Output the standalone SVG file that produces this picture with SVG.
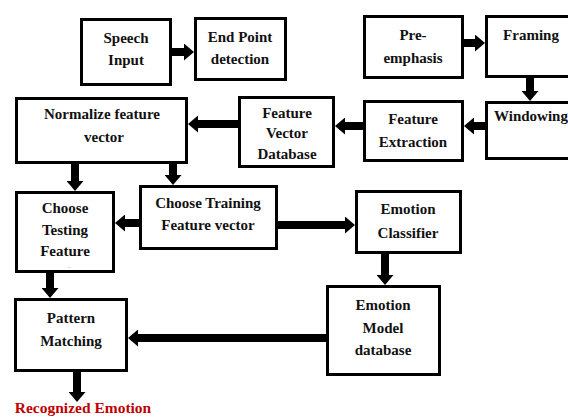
<svg xmlns="http://www.w3.org/2000/svg" width="568" height="417" viewBox="0 0 568 417">
<style>
.box{fill:#fff;stroke:#000;stroke-width:3}
.t{font-family:"Liberation Serif","Times New Roman",serif;font-weight:bold;font-size:15px;fill:#111;text-anchor:middle}
.red{fill:#c00000;font-size:15.5px}
.c{stroke:#000;stroke-width:8;fill:none;marker-end:url(#ah)}
</style>
<defs>
<marker id="ah" markerUnits="userSpaceOnUse" markerWidth="10" markerHeight="17" viewBox="0 0 10 17" refX="0" refY="8.5" orient="auto">
<path d="M0,0 L10,8.5 L0,17 Z" fill="#000"/>
</marker>
</defs>
<rect width="568" height="417" fill="#fff"/>
<g id="connectors">
<path class="c" d="M172,52 H184"/>
<path class="c" d="M464,43 H475"/>
<path class="c" d="M530,78 V91"/>
<path class="c" d="M485,126 H474"/>
<path class="c" d="M363,126 H345"/>
<path class="c" d="M238,124 H198"/>
<path class="c" d="M75,164 V181"/>
<path class="c" d="M173,164 V175"/>
<path class="c" d="M139,223 H125"/>
<path class="c" d="M278,225 H345"/>
<path class="c" d="M385,254 V275"/>
<path class="c" d="M326,338 H138"/>
<path class="c" d="M50,273 V288"/>
<path class="c" d="M77,372 V392"/>
</g>
<g id="speech-input"><rect class="box" x="81.5" y="19.5" width="89" height="65"/><text class="t" x="126" y="43">Speech</text><text class="t" x="126" y="65">Input</text></g>
<g id="end-point"><rect class="box" x="195.5" y="18.5" width="90" height="61"/><text class="t" x="240" y="42">End Point</text><text class="t" x="240" y="64">detection</text></g>
<g id="pre-emphasis"><rect class="box" x="364.5" y="16.5" width="98" height="61"/><text class="t" x="413" y="40">Pre-</text><text class="t" x="413" y="63">emphasis</text></g>
<g id="framing"><rect class="box" x="486.5" y="16.5" width="100" height="60"/><text class="t" x="531" y="40">Framing</text></g>
<g id="normalize"><rect class="box" x="16.5" y="98.5" width="170" height="64"/><text class="t" x="102" y="119">Normalize feature</text><text class="t" x="104" y="142">vector</text></g>
<g id="feature-vector-db"><rect class="box" x="239.5" y="97.5" width="94" height="69"/><text class="t" x="287" y="118">Feature</text><text class="t" x="287" y="138">Vector</text><text class="t" x="287" y="159">Database</text></g>
<g id="feature-extraction"><rect class="box" x="364.5" y="101.5" width="98" height="59"/><text class="t" x="413" y="124">Feature</text><text class="t" x="413" y="147">Extraction</text></g>
<g id="windowing"><rect class="box" x="486.5" y="102.5" width="100" height="56"/><text class="t" x="494" y="121" style="text-anchor:start">Windowing</text></g>
<g id="choose-testing"><rect class="box" x="16.5" y="192.5" width="97" height="79"/><text class="t" x="65" y="213">Choose</text><text class="t" x="65" y="235">Testing</text><text class="t" x="65" y="256">Feature</text><text class="t" x="69" y="268" style="font-size:7px;fill:#999">.</text></g>
<g id="choose-training"><rect class="box" x="140.5" y="186.5" width="136" height="62"/><text class="t" x="208" y="208">Choose Training</text><text class="t" x="208" y="230">Feature vector</text></g>
<g id="emotion-classifier"><rect class="box" x="356.5" y="191.5" width="104" height="61"/><text class="t" x="408" y="214">Emotion</text><text class="t" x="408" y="238">Classifier</text></g>
<g id="emotion-model-db"><rect class="box" x="327.5" y="286.5" width="112" height="88"/><text class="t" x="383" y="310">Emotion</text><text class="t" x="383" y="333">Model</text><text class="t" x="383" y="355">database</text></g>
<g id="pattern-matching"><rect class="box" x="15.5" y="299.5" width="111" height="71"/><text class="t" x="71" y="323">Pattern</text><text class="t" x="71" y="346">Matching</text></g>
<g id="recognized-emotion"><text class="t red" x="83" y="413">Recognized Emotion</text></g>
</svg>
